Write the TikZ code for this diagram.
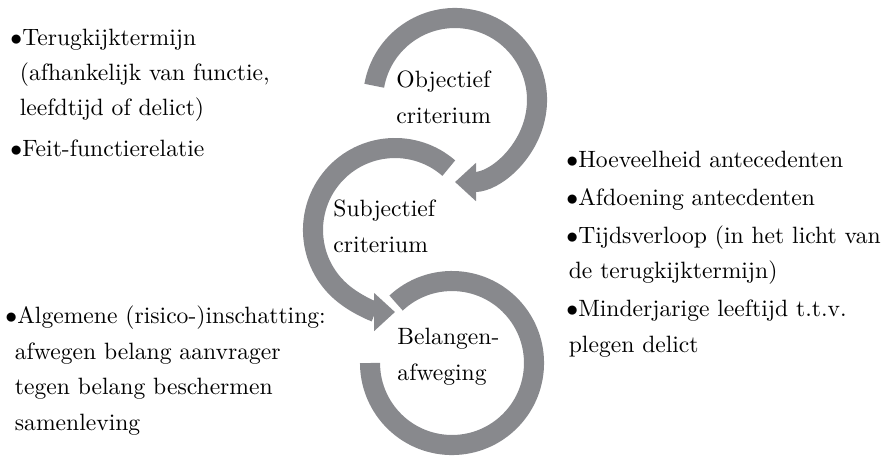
\documentclass[tikz,border=0pt]{standalone}
\usepackage{amsmath}
\usepackage{tikz}
\usetikzlibrary{arrows.meta}
\definecolor{ringgray}{RGB}{136,137,141}
\tikzset{ring/.style={draw=ringgray, line width=8.5pt}}
\tikzset{crit/.style={anchor=base west, align=left, inner sep=0pt, font=\fontsize{10}{15}\selectfont}}
\tikzset{factors/.style={anchor=base west, align=left, inner sep=0pt, font=\fontsize{10}{15}\selectfont}}

\begin{document}
\begin{tikzpicture}[
	x=0.4237pt,
	y=0.4237pt,
	>={Triangle[width=15.7pt,length=8.9pt]},
	]
	\useasboundingbox (0,0) rectangle (896,-455);
	\coordinate (obj) at (455,-100);
	\coordinate (subj) at (395,-230);
	\coordinate (bel) at (452,-363);

	% the base anchor sits on the last line
	\node [crit] (objtext) at (396,-123) {Objectief\\criterium};
	\node [crit] (subjtext) at (333,-252) {Subjectief\\criterium};
	\node [crit] (beltext) at (397,-380) {Belangen-\\afweging};

	\node [factors] (objfactors) at (10,-156) {$\bullet$Terugkijktermijn\\\hspace*{4pt}(afhankelijk van functie,\\\hspace*{4pt}leefdtijd of delict)\\[2pt]$\bullet$Feit-functierelatie};
	\node [factors] (subjfactors) at (566,-352) {$\bullet$Hoeveelheid antecedenten\\[1pt]$\bullet$Afdoening antecdenten\\[1pt]$\bullet$Tijdsverloop (in het licht van\\\hspace*{1pt}de terugkijktermijn)\\[1pt]$\bullet$Minderjarige leeftijd t.t.v.\\\hspace*{1pt}plegen delict};
	\node [factors] (belfactors) at (5,-430) {$\bullet$Algemene (risico-)inschatting:\\\hspace*{4pt}afwegen belang aanvrager\\\hspace*{4pt}tegen belang beschermen\\\hspace*{4pt}samenleving};

	% rings
	\draw [ring,->] ([shift={(170:82)}]obj) arc [start angle=170, end angle=-90, radius=82];
	\draw [ring,->] ([shift={(49:82)}]subj) arc [start angle=49, end angle=270, radius=82];
	\draw [ring] ([shift={(133:82)}]bel) arc [start angle=133, end angle=-180, radius=82];
\end{tikzpicture}
\end{document}
